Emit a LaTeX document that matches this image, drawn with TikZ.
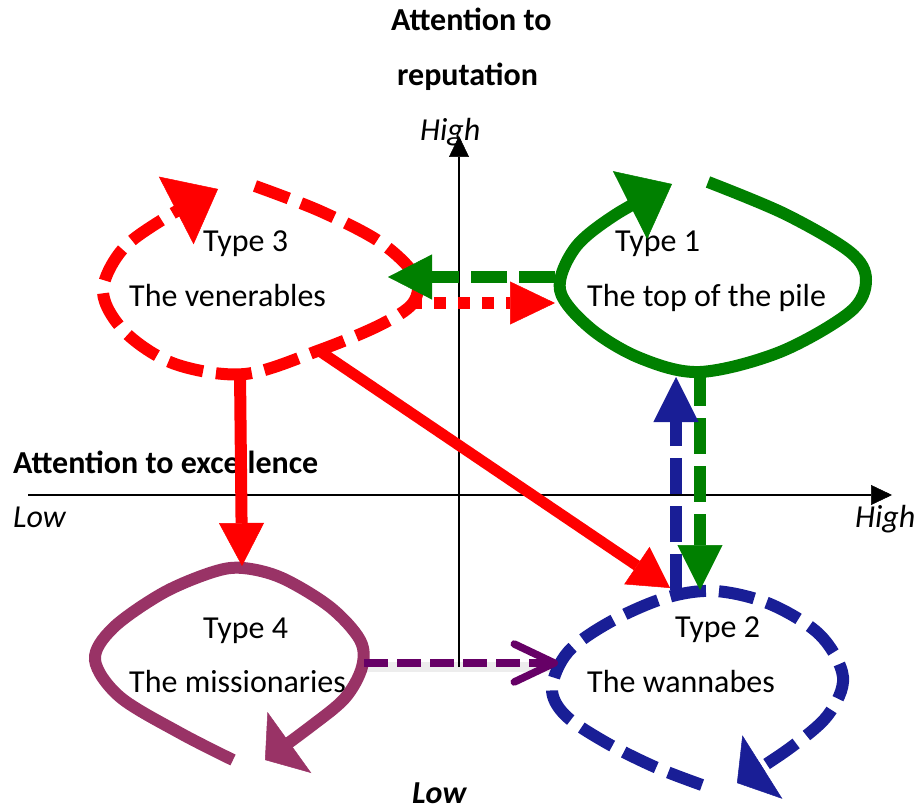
\documentclass[tikz,border=0pt]{standalone}
\usepackage{fontspec}
\setmainfont{Carlito}
\usetikzlibrary{arrows.meta}
\definecolor{myred}{RGB}{255,0,0}
\definecolor{mygreen}{RGB}{0,128,0}
\definecolor{myblue}{RGB}{25,30,150}
\definecolor{mymauve}{RGB}{153,51,102}
\definecolor{myplum}{RGB}{102,0,102}
\begin{document}
\begin{tikzpicture}[x=1pt,y=-1pt,
  lbl/.style={inner sep=0pt, anchor=base west, font=\fontsize{32}{38}\selectfont},
  ttl/.style={lbl, font=\fontsize{32}{38}\selectfont\bfseries},
  itl/.style={lbl, font=\fontsize{32}{38}\selectfont\itshape},
  ax/.style={line width=2pt, -{Triangle[length=21pt,width=20pt,line width=0.5pt]}},
  thick11/.style={line width=12pt},
  dashloop/.style={thick11, dash pattern=on 36pt off 13pt},
  bigtip/.style={-{Triangle[length=47pt,width=76pt,line width=0.5pt]}},
  flattip/.style={-{Triangle[length=30pt,width=75pt,line width=0.5pt]}},
  midtip/.style={-{Triangle[length=45pt,width=45pt,line width=0.5pt]}},
  dashcon/.style={line width=12pt, dash pattern=on 36pt off 12pt},
]
\useasboundingbox (0,0) rectangle (916,810);

% axes
\coordinate (xs) at (28,495);
\coordinate (xe) at (892,495);
\coordinate (ys) at (459,667);
\coordinate (ye) at (459,136);
\draw[ax] (xs) -- (xe);
\draw[ax] (ys) -- (ye);

% axis labels
\node[ttl] (ttl1) at (391,31) {Attention to};
\node[ttl] (ttl2) at (397,86) {reputation};
\node[itl] (yhigh) at (420,141) {High};
\node[ttl] (xttl) at (13,473) {Attention to excellence};
\node[itl] (xlow) at (13,527) {Low};
\node[itl] (xhigh) at (855,527) {High};
\node[lbl, font=\fontsize{32}{38}\selectfont\bfseries\itshape] (ylow) at (412,803) {Low};

% type labels
\node[lbl] (t3a) at (203,252) {Type 3};
\node[lbl] (t3b) at (129,307) {The venerables};
\node[lbl] (t1a) at (615,252) {Type 1};
\node[lbl] (t1b) at (587,307) {The top of the pile};
\node[lbl] (t4a) at (203,638) {Type 4};
\node[lbl] (t4b) at (129,692) {The missionaries};
\node[lbl] (t2a) at (675,637) {Type 2};
\node[lbl] (t2b) at (587,692) {The wannabes};

% loops
\draw[myred, dashloop, bigtip] plot[smooth, tension=0.55] coordinates
  {(255,186) (320,211) (380,242) (415,276) (413,303) (380,325) (320,350) (245,374) (175,364) (125,332) (103,292) (122,250) (165,218) (218,189)};
\draw[mygreen, thick11, bigtip] plot[smooth, tension=0.55] coordinates
  {(708,182) (785,214) (850,252) (866,280) (850,312) (780,352) (700,372) (640,358) (590,328) (560,290) (575,248) (615,215) (672,184)};
\draw[mymauve, thick11, flattip] plot[smooth, tension=0.55] coordinates
  {(233,760) (180,733) (120,697) (95,660) (113,628) (163,593) (213,572) (243,568) (282,578) (330,607) (360,640) (362,667) (345,698) (310,727) (265,760)};
\draw[myblue, dashloop, flattip] plot[smooth, tension=0.55] coordinates
  {(702,785) (655,767) (605,742) (565,715) (552,688) (568,652) (610,622) (665,598) (715,591) (770,604) (820,635) (843,677) (828,715) (790,748) (737,783)};

% connector end points
\coordinate (c3bot) at (240,372);
\coordinate (c3diag) at (318,350);
\coordinate (c3east) at (410,303);
\coordinate (c3west) at (388,277);
\coordinate (c1west) at (555,277);
\coordinate (c1dot) at (555,303);
\coordinate (c1bot) at (700,370);
\coordinate (c1bb) at (676,377);
\coordinate (c2top) at (700,590);
\coordinate (c2tt) at (676,590);
\coordinate (c2diag) at (670,588);
\coordinate (c4top) at (242,566);
\coordinate (c4east) at (364,663);
\coordinate (c2west) at (558,663);
\coordinate (c4sh) at (366,667);
\coordinate (c2sh) at (552,667);

% connectors
\draw[myred, line width=12pt, -{Triangle[length=43pt,width=45pt,line width=0.5pt]}] (c3bot) -- (c4top);
\draw[myred, line width=11pt, -{Triangle[length=40pt,width=45pt,line width=0.5pt]}] (c3diag) -- (c2diag);
\draw[mygreen, dashcon, -{Triangle[length=44pt,width=45pt,line width=0.5pt]}] (c1west) -- (c3west);
\draw[myred, line width=12pt, dash pattern=on 12pt off 12pt, -{Triangle[length=45pt,width=43pt,line width=0.5pt]}] (c3east) -- (c1dot);
\draw[mygreen, dashcon, midtip] (c1bot) -- (c2top);
\draw[myblue, dashcon, midtip] (c2tt) -- (c1bb);
\draw[black, opacity=0.07, line width=10pt] (c4sh) -- (c2sh);
\draw[myplum, line width=7.5pt, dash pattern=on 24pt off 9pt, line cap=butt,
  -{Straight Barb[length=40pt,width=38pt,line cap=round,line join=round]}] (c4east) -- (c2west);
\end{tikzpicture}
\end{document}
